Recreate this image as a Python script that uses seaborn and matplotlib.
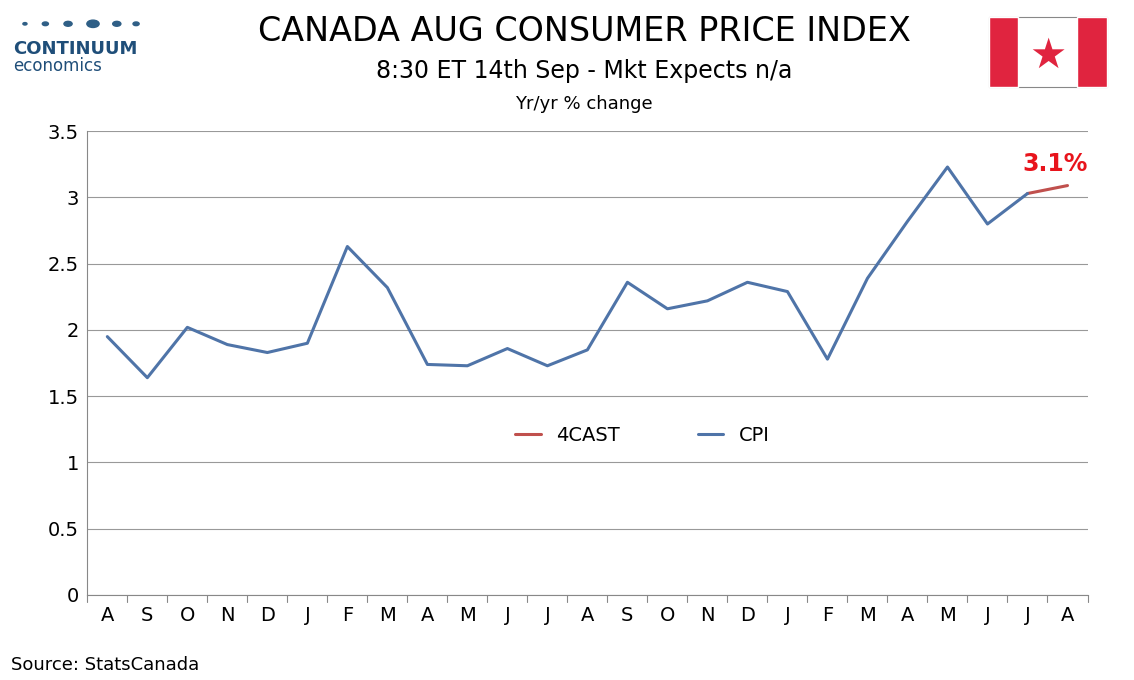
import matplotlib
matplotlib.use("Agg")
import matplotlib.pyplot as plt
import seaborn as sns
import pandas as pd
import numpy as np
from matplotlib.patches import Rectangle, Circle

months = ["A","S","O","N","D","J","F","M","A","M","J","J","A","S","O","N","D","J","F","M","A","M","J","J","A"]
cpi = [1.95,1.64,2.02,1.89,1.83,1.90,2.63,2.32,1.74,1.73,1.86,1.73,1.85,2.36,2.16,2.22,2.36,2.29,1.78,2.39,2.82,3.23,2.80,3.03]
fc_idx = [23, 24]
fc = [3.03, 3.09]

sns.set_style("white")
plt.rcParams['font.family'] = ['Verdana', 'DejaVu Sans']
plt.rcParams['text.color'] = 'black'
plt.rcParams['xtick.color'] = 'black'
plt.rcParams['ytick.color'] = 'black'
fig = plt.figure(figsize=(11.34, 6.8), dpi=100)
ax = fig.add_axes([0.077, 0.125, 0.882, 0.682])

df_c = pd.DataFrame({"x": np.arange(len(cpi)), "y": cpi})
df_f = pd.DataFrame({"x": fc_idx, "y": fc})
sns.lineplot(data=df_f, x="x", y="y", ax=ax, color="#C0504D", lw=2.2, label="4CAST")
sns.lineplot(data=df_c, x="x", y="y", ax=ax, color="#4F74A8", lw=2.2, label="CPI")

ax.set_xlim(-0.5, 24.5)
ax.set_ylim(0, 3.5)
ax.set_yticks(np.arange(0, 3.51, 0.5))
ax.set_yticklabels(["0","0.5","1","1.5","2","2.5","3","3.5"], fontsize=14)
ax.set_xticks(np.arange(len(months)))
ax.set_xticklabels(months, fontsize=14)
ax.tick_params(axis='x', length=0, pad=8)
ax.tick_params(axis='y', length=0, pad=6)
for b in np.arange(-0.5, 25, 1):
    ax.plot([b, b], [0, -0.05], color="#888888", lw=0.8, clip_on=False)
ax.grid(axis='y', color="#999999", lw=0.8)
for s in ["top", "right"]:
    ax.spines[s].set_visible(False)
for s in ["left", "bottom"]:
    ax.spines[s].set_color("#888888")
ax.set_xlabel(""); ax.set_ylabel("")
ax.legend(loc="center", bbox_to_anchor=(0.555, 0.345), ncol=2, frameon=False, fontsize=14,
          handlelength=1.3, columnspacing=4)
ax.text(23.7, 3.2, "3.1%", color="#E8141C", fontsize=17, fontweight="bold", ha="center")

fig.text(0.515, 0.94, "CANADA AUG CONSUMER PRICE INDEX", ha="center", fontsize=24)
fig.text(0.515, 0.885, "8:30 ET 14th Sep - Mkt Expects n/a", ha="center", fontsize=17)
fig.text(0.515, 0.84, "Yr/yr % change", ha="center", fontsize=13)
fig.text(0.01, 0.015, "Source: StatsCanada", fontsize=13)

# logo
for x, r in zip([0.022, 0.04, 0.06, 0.082, 0.103, 0.12], [0.002, 0.003, 0.004, 0.006, 0.004, 0.003]):
    fig.patches.append(Circle((x, 0.965), r * 0.9, transform=fig.transFigure, color="#2F5F86"))
fig.text(0.012, 0.92, "CONTINUUM", fontsize=13, color="#1F4E79", fontweight="bold")
fig.text(0.012, 0.895, "economics", fontsize=12, color="#1F4E79")

# flag
fig.patches.append(Rectangle((0.872, 0.872), 0.104, 0.103, transform=fig.transFigure, facecolor="white", edgecolor="#888888", lw=0.8))
fig.patches.append(Rectangle((0.872, 0.872), 0.026, 0.103, transform=fig.transFigure, facecolor="#E0243F"))
fig.patches.append(Rectangle((0.950, 0.872), 0.026, 0.103, transform=fig.transFigure, facecolor="#E0243F"))
fig.text(0.924, 0.918, "\u2605", fontsize=30, color="#E0243F", ha="center", va="center", family="DejaVu Sans")

fig.savefig("out.png", dpi=100)
